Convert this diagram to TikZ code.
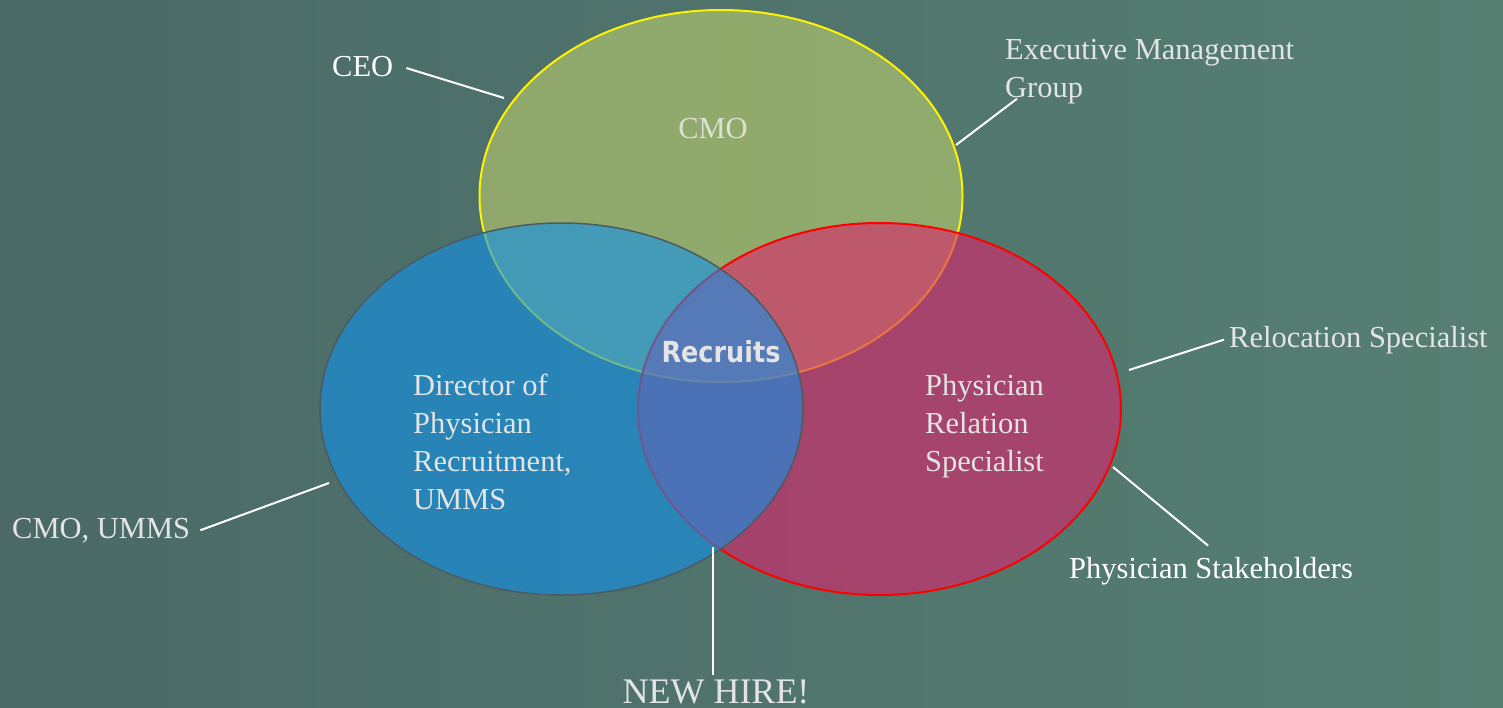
\documentclass[tikz,border=0pt]{standalone}
\usepackage{fontspec}
\setmainfont{Liberation Serif}
\newfontfamily\labelsans{DejaVu Sans}[FakeStretch=0.88]
\usetikzlibrary{shapes.geometric}

\definecolor{bgleft}{HTML}{4A6967}
\definecolor{bgright}{HTML}{567F72}
\definecolor{topfill}{HTML}{BCCE6D}
\definecolor{leftfill}{HTML}{1092EA}
\definecolor{rightfill}{HTML}{DD226B}
\definecolor{leftline}{HTML}{4C5A62}
\definecolor{txtc}{HTML}{E4E4E4}
\definecolor{cmotxt}{HTML}{DCE0D6}

\begin{document}
\begin{tikzpicture}[x=1pt,y=-1pt,
  lbl/.style={font=\fontsize{30.5}{38}\selectfont, text=txtc, inner sep=0pt,
    anchor=base west, align=left},
  leader/.style={draw=white, line width=2pt},
  setshape/.style={shape=ellipse, inner sep=0pt, minimum width=483pt,
    minimum height=372pt, fill opacity=0.6, line width=2pt}]

% background
\shade[left color=bgleft, right color=bgright] (0,0) rectangle (1503,707);
\useasboundingbox (0,0) rectangle (1503,707);

% the three sets, drawn top, right, left
\node[setshape, draw=yellow, fill=topfill] (cmoset) at (721,196) {};
\node[setshape, draw=red, fill=rightfill] (prsset) at (879.5,409) {};
\node[setshape, draw=leftline, line width=1.5pt, fill=leftfill] (dirset) at (561.5,409) {};

% texts inside the sets (multi-line nodes sit on their last baseline)
\node[lbl, anchor=base, text=cmotxt] (cmo) at (713,138) {CMO};
\node[lbl] (director) at (413,509) {Director of\\Physician\\Recruitment,\\UMMS};
\node[lbl] (prs) at (925,471) {Physician\\Relation\\Specialist};
\node[font=\labelsans\bfseries\fontsize{29}{34}\selectfont, text=txtc, inner sep=0pt,
  anchor=base] (recruits) at (721,362) {Recruits};

% outer labels
\node[lbl, text=white] (ceo) at (332,76) {CEO};
\node[lbl] (emg) at (1005,97) {Executive Management\\Group};
\node[lbl] (reloc) at (1229,347) {Relocation Specialist};
\node[lbl, text=white] (stake) at (1069,578) {Physician Stakeholders};
\node[lbl] (cmoumms) at (12,538) {CMO, UMMS};
\node[lbl, anchor=base, font=\fontsize{36}{40}\selectfont] (newhire) at (716,703) {NEW HIRE!};

% free ends of the leader lines, near the set borders
\coordinate (ceoend) at (504,98);
\coordinate (emgend) at (956,145);
\coordinate (relocend) at (1129,370);
\coordinate (stakeend) at (1113,467);
\coordinate (cmoummsend) at (329,483);
\coordinate (lensbottom) at (713,547);

% leader lines
\draw[leader] ([xshift=13pt,yshift=-2pt]ceo.east) -- (ceoend);
\draw[leader] ([xshift=12pt,yshift=5pt]emg.south west) -- (emgend);
\draw[leader] ([xshift=-5pt]reloc.west) -- (relocend);
\draw[leader] ([xshift=-3pt,yshift=11pt]stake.north) -- (stakeend);
\draw[leader] ([xshift=10pt]cmoumms.east) -- (cmoummsend);
\draw[leader] (lensbottom) -- ([xshift=-3pt,yshift=4pt]newhire.north);
\end{tikzpicture}
\end{document}
